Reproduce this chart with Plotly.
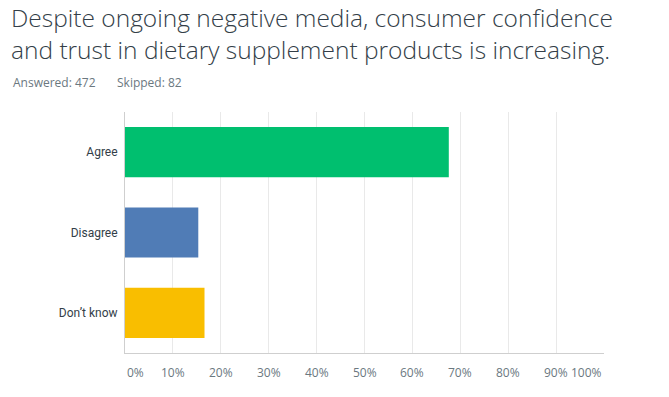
import plotly.graph_objects as go

categories = ["Agree", "Disagree", "Don’t know"]
values = [67.6, 15.3, 16.6]
bar_colors = ["#00bf6f", "#507cb6", "#f9be00"]
tick_vals = [0, 10, 20, 30, 40, 50, 60, 70, 80, 90, 100]
tick_text = [f"{v}%" for v in tick_vals]
title_lines = ["Despite ongoing negative media, consumer confidence",
               "and trust in dietary supplement products is increasing."]
answered = 472
skipped = 82

W, H = 669, 397
ML, MR, MT, MB = 125, 65, 112, 44
PW, PH = W - ML - MR, H - MT - MB


def px_x(px):
    return (px - ML) / PW


def px_y(px):
    return 1 + (MT - px) / PH


fig = go.Figure()
fig.add_trace(go.Bar(
    x=values, y=categories, orientation="h",
    marker=dict(color=bar_colors, line=dict(width=0)),
    width=0.625, hoverinfo="skip",
))

annotations = []
for v, t in zip(tick_vals, tick_text):
    anchor = "left" if v == tick_vals[0] else ("right" if v == tick_vals[-1] else "center")
    annotations.append(dict(
        x=v, y=0, xref="x", yref="paper", text=t, showarrow=False,
        xanchor=anchor, yanchor="middle", yshift=-19,
        font=dict(family="Open Sans", size=12, color="#6b787f"),
    ))

annotations.append(dict(
    xref="paper", yref="paper", x=px_x(10), y=px_y(0.2),
    text="<br>".join(title_lines), showarrow=False, align="left", borderpad=0,
    xanchor="left", yanchor="top",
    font=dict(family="Open Sans", size=24.5, color="#333e48", weight=300),
))
annotations.append(dict(
    xref="paper", yref="paper", x=px_x(11), y=px_y(72),
    text=f"Answered: {answered}",
    showarrow=False, align="left", xanchor="left", yanchor="top",
    font=dict(family="Open Sans", size=12, color="#6b787f"),
))
annotations.append(dict(
    xref="paper", yref="paper", x=px_x(115), y=px_y(72),
    text=f"Skipped: {skipped}",
    showarrow=False, align="left", xanchor="left", yanchor="top",
    font=dict(family="Open Sans", size=12, color="#6b787f"),
))

fig.update_layout(
    width=W, height=H,
    margin=dict(l=ML, r=MR, t=MT, b=MB, autoexpand=False),
    paper_bgcolor="white", plot_bgcolor="white",
    showlegend=False,
    xaxis=dict(
        range=[0, 100], tickvals=tick_vals, showticklabels=False,
        showgrid=True, gridcolor="#e9e9e9", gridwidth=1,
        showline=True, linecolor="#cfcfcf", linewidth=1,
        zeroline=False, fixedrange=True,
    ),
    yaxis=dict(
        range=[2.5, -0.5], showgrid=False,
        showline=True, linecolor="#cfcfcf", linewidth=1,
        ticks="", ticklabelstandoff=4,
        tickfont=dict(family="Roboto", size=12, color="#333e48"),
        fixedrange=True,
    ),
    annotations=annotations,
)

fig.write_html("out.html", config={"displayModeBar": False},
               post_script="document.body.style.margin='0px';")
